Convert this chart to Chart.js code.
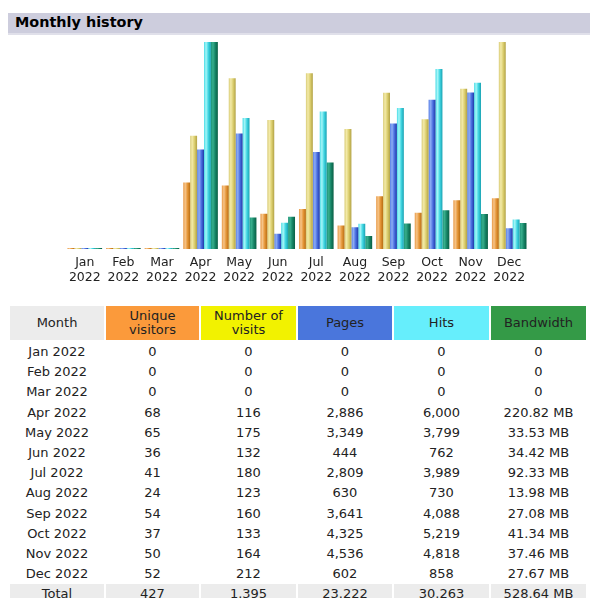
<!DOCTYPE html>
<html><head><meta charset="utf-8">
<script src="https://cdn.jsdelivr.net/npm/chart.js@4"></script>
<style>
html,body{margin:0;padding:0;background:#fff;width:590px;height:598px;overflow:hidden;font-family:"DejaVu Sans",Verdana,sans-serif;}
#title{position:absolute;left:8px;top:13px;width:582px;height:20px;background:#cdcddd;border-bottom:2px solid #e0e0ea;}
#title span{position:absolute;left:7px;top:1px;font-weight:bold;font-size:14.4px;color:#000;}
#wrap{position:absolute;left:63px;top:38px;width:468px;height:256px;}
#tbl{position:absolute;left:10px;top:306px;display:grid;grid-template-columns:94px 93px 95px 94px 95px 95px;column-gap:2px;font-size:13px;color:#222;}
#tbl div{text-align:center;height:20.2px;line-height:20.2px;white-space:nowrap;}
#tbl div.h{height:34px;line-height:14.5px;display:flex;align-items:center;justify-content:center;margin-bottom:2px;}
#tbl div.t{background:#ececec;}
</style></head>
<body>
<div id="title"><span>Monthly history</span></div>
<div id="wrap"><canvas id="c"></canvas></div>
<div id="tbl"></div>
<script>
const MONTHS = ["Jan","Feb","Mar","Apr","May","Jun","Jul","Aug","Sep","Oct","Nov","Dec"];
const YEAR = "2022";
const VISITORS = [0,0,0,68,65,36,41,24,54,37,50,52];
const VISITS = [0,0,0,116,175,132,180,123,160,133,164,212];
const PAGES = [0,0,0,2886,3349,444,2809,630,3641,4325,4536,602];
const HITS = [0,0,0,6000,3799,762,3989,730,4088,5219,4818,858];
const BANDWIDTH_MB = [0,0,0,220.82,33.53,34.42,92.33,13.98,27.08,41.34,37.46,27.67];
const HEADERS = ["Month","Unique<br>visitors","Number of<br>visits","Pages","Hits","Bandwidth"];
const TOTALS = ["Total","427","1.395","23.222","30.263","528.64 MB"];

const HEAD_BG = ["#ececec","#fb9a3b","#f2f200","#4a76dc","#66eefc","#349a47"];
const GRADS = [
  ["#e89a48","#f6c488","#e59638","#b86d12"],
  ["#d9cc78","#f3eaa8","#dccf70","#b2a244"],
  ["#5a80e8","#8cacf4","#4a6ee0","#1e3aa8"],
  ["#48dce6","#a6f6f8","#40d6e2","#1aa2b2"],
  ["#1e9478","#38ae8c","#168466","#0a5e44"]
];
const CAT_PCT = 35/39;

function fill(di){
  return function(ctx){
    const chart = ctx.chart, xs = chart.scales.x;
    if(!xs || ctx.type!=='data' || !isFinite(xs.width) || xs.width<=0) return GRADS[di][2];
    const cat = xs.width / MONTHS.length;
    const slot = cat*CAT_PCT/5;
    const c = xs.getPixelForValue(ctx.dataIndex);
    const left = c - cat*CAT_PCT/2 + di*slot;
    const g = chart.ctx.createLinearGradient(left,0,left+slot,0);
    const s = GRADS[di];
    g.addColorStop(0,s[0]); g.addColorStop(0.3,s[1]); g.addColorStop(0.62,s[2]); g.addColorStop(1,s[3]);
    return g;
  };
}

const series = [
  {label:"Unique visitors", data:VISITORS, yAxisID:"yv"},
  {label:"Number of visits", data:VISITS, yAxisID:"yv"},
  {label:"Pages", data:PAGES, yAxisID:"yh"},
  {label:"Hits", data:HITS, yAxisID:"yh"},
  {label:"Bandwidth", data:BANDWIDTH_MB, yAxisID:"yb"}
];

new Chart(document.getElementById('c'), {
  type:'bar',
  data:{
    labels: MONTHS.map(m=>[m,YEAR]),
    datasets: series.map((s,i)=>({
      label:s.label, data:s.data, yAxisID:s.yAxisID, stack:'s'+i,
      backgroundColor:fill(i), borderWidth:0, minBarLength:1,
      categoryPercentage:CAT_PCT, barPercentage:1
    }))
  },
  options:{
    responsive:true, maintainAspectRatio:false, animation:false,
    layout:{padding:{top:4,bottom:3,left:0,right:0}},
    plugins:{legend:{display:false}, tooltip:{enabled:true}},
    scales:{
      x:{stacked:false, grid:{display:false,drawTicks:false}, border:{display:false},
         ticks:{color:'#222', padding:6, maxRotation:0, autoSkip:false,
                font:{family:'"DejaVu Sans", Verdana, sans-serif', size:12.5, lineHeight:'15px'}}},
      yv:{display:false, min:0, max:Math.max(...VISITORS,...VISITS)},
      yh:{display:false, min:0, max:Math.max(...PAGES,...HITS)},
      yb:{display:false, min:0, max:Math.max(...BANDWIDTH_MB)}
    }
  }
});

// table
const tbl = document.getElementById('tbl');
const fmt = n => n.toLocaleString('en-US');
HEADERS.forEach((h,i)=>{
  const d=document.createElement('div'); d.className='h'; d.style.background=HEAD_BG[i]; d.innerHTML=h; tbl.appendChild(d);
});
MONTHS.forEach((m,i)=>{
  const cells=[m+" "+YEAR, fmt(VISITORS[i]), fmt(VISITS[i]), fmt(PAGES[i]), fmt(HITS[i]),
    BANDWIDTH_MB[i]===0 ? "0" : BANDWIDTH_MB[i].toFixed(2)+" MB"];
  cells.forEach(t=>{const d=document.createElement('div'); d.textContent=t; tbl.appendChild(d);});
});
TOTALS.forEach(t=>{const d=document.createElement('div'); d.className='t'; d.textContent=t; tbl.appendChild(d);});
</script>
</body></html>
